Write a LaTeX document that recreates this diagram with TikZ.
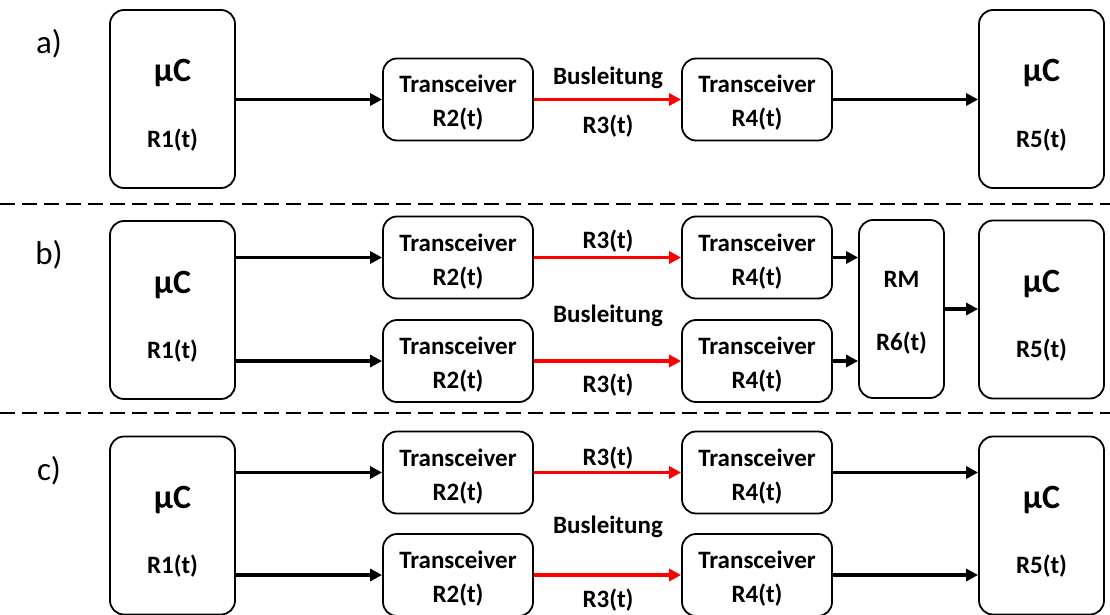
\documentclass[tikz,border=0pt]{standalone}
\usepackage{fontspec}
\setmainfont{Carlito}
\usetikzlibrary{arrows.meta}
\begin{document}
\begin{tikzpicture}[x=1pt,y=-1pt,
  box/.style={draw, line width=1.8pt, rounded corners=14pt, inner sep=0pt},
  mcbox/.style={box, minimum width=125pt, minimum height=178pt},
  trbox/.style={box, minimum width=150pt, minimum height=82pt},
  rmbox/.style={box, minimum width=85pt, minimum height=178pt},
  big/.style={font=\fontsize{34}{40}\selectfont\bfseries, inner sep=0pt, anchor=base},
  txt/.style={font=\fontsize{25}{30}\selectfont\bfseries, inner sep=0pt, anchor=base},
  tag/.style={font=\fontsize{33}{38}\selectfont, inner sep=0pt},
  arr/.style={line width=3.5pt, -{Triangle[length=12pt,width=12pt]}},
  busarr/.style={arr, red},
  sep/.style={line width=1.4pt, dash pattern=on 15pt off 7pt}
]
\useasboundingbox (0,0) rectangle (1110,615);

% ---------- a) single channel ----------
\node[tag] (ta) at (49,44) {a)};
\node[mcbox] (a1) at (172.5,99) {};
\node[big] (a1m) at ([yshift=17pt]a1.center) {μC};
\node[txt] (a1r) at ([yshift=-48pt]a1.center) {R1(t)};
\node[trbox] (a2) at (458,99.5) {};
\node[txt] (a2t) at ([yshift=6.5pt]a2.center) {Transceiver};
\node[txt] (a2r) at ([yshift=-27.5pt]a2.center) {R2(t)};
\node[trbox] (a4) at (757,99.5) {};
\node[txt] (a4t) at ([yshift=6.5pt]a4.center) {Transceiver};
\node[txt] (a4r) at ([yshift=-27.5pt]a4.center) {R4(t)};
\node[mcbox] (a5) at (1041.5,99) {};
\node[big] (a5m) at ([yshift=17pt]a5.center) {μC};
\node[txt] (a5r) at ([yshift=-48pt]a5.center) {R5(t)};
\draw[arr] (a1.east |- a2.west) -- (a2.west);
\draw[busarr] (a2) -- (a4);
\draw[arr] (a4) -- (a4 -| a5.west);
\node[txt] (abus) at (608,85) {Busleitung};
\node[txt] (ar3) at (608,133) {R3(t)};

\draw[sep] (0,204) coordinate (s1a) -- (1110,204) coordinate (s1b);

% ---------- b) two channels with RM ----------
\node[tag] (tb) at (49,255) {b)};
\node[mcbox] (b1) at (172.5,310) {};
\node[big] (b1m) at ([yshift=17pt]b1.center) {μC};
\node[txt] (b1r) at ([yshift=-48pt]b1.center) {R1(t)};
\node[trbox] (b2t) at (458,257.5) {};
\node[txt] (b2tt) at ([yshift=6.5pt]b2t.center) {Transceiver};
\node[txt] (b2tr) at ([yshift=-27.5pt]b2t.center) {R2(t)};
\node[trbox] (b2b) at (458,361) {};
\node[txt] (b2bt) at ([yshift=6.5pt]b2b.center) {Transceiver};
\node[txt] (b2br) at ([yshift=-27.5pt]b2b.center) {R2(t)};
\node[trbox] (b4t) at (757,257.5) {};
\node[txt] (b4tt) at ([yshift=6.5pt]b4t.center) {Transceiver};
\node[txt] (b4tr) at ([yshift=-27.5pt]b4t.center) {R4(t)};
\node[trbox] (b4b) at (757,361) {};
\node[txt] (b4bt) at ([yshift=6.5pt]b4b.center) {Transceiver};
\node[txt] (b4br) at ([yshift=-27.5pt]b4b.center) {R4(t)};
\node[rmbox] (rm) at (901.5,309) {};
\node[txt] (rmt) at ([yshift=22pt]rm.center) {RM};
\node[txt] (rmr) at ([yshift=-41pt]rm.center) {R6(t)};
\node[mcbox] (b5) at (1041.5,309.5) {};
\node[big] (b5m) at ([yshift=17pt]b5.center) {μC};
\node[txt] (b5r) at ([yshift=-48pt]b5.center) {R5(t)};
\draw[arr] (b1.east |- b2t.west) -- (b2t.west);
\draw[arr] (b1.east |- b2b.west) -- (b2b.west);
\draw[busarr] (b2t) -- (b4t);
\draw[busarr] (b2b) -- (b4b);
\draw[arr] (b4t.east) -- (b4t.east -| rm.west);
\draw[arr] (b4b.east) -- (b4b.east -| rm.west);
\draw[arr] (rm.east) -- (rm.east -| b5.west);
\node[txt] (br3t) at (608,248) {R3(t)};
\node[txt] (bbus) at (608,322) {Busleitung};
\node[txt] (br3b) at (608,392) {R3(t)};

\draw[sep] (0,413) coordinate (s2a) -- (1110,413) coordinate (s2b);

% ---------- c) two independent channels ----------
\node[tag] (tc) at (49,471) {c)};
\node[mcbox] (c1) at (172.5,525.5) {};
\node[big] (c1m) at ([yshift=17pt]c1.center) {μC};
\node[txt] (c1r) at ([yshift=-48pt]c1.center) {R1(t)};
\node[trbox] (c2t) at (458,472.5) {};
\node[txt] (c2tt) at ([yshift=6.5pt]c2t.center) {Transceiver};
\node[txt] (c2tr) at ([yshift=-27.5pt]c2t.center) {R2(t)};
\node[trbox] (c2b) at (458,575) {};
\node[txt] (c2bt) at ([yshift=6.5pt]c2b.center) {Transceiver};
\node[txt] (c2br) at ([yshift=-27.5pt]c2b.center) {R2(t)};
\node[trbox] (c4t) at (757,472.5) {};
\node[txt] (c4tt) at ([yshift=6.5pt]c4t.center) {Transceiver};
\node[txt] (c4tr) at ([yshift=-27.5pt]c4t.center) {R4(t)};
\node[trbox] (c4b) at (757,575) {};
\node[txt] (c4bt) at ([yshift=6.5pt]c4b.center) {Transceiver};
\node[txt] (c4br) at ([yshift=-27.5pt]c4b.center) {R4(t)};
\node[mcbox] (c5) at (1041.5,525.5) {};
\node[big] (c5m) at ([yshift=17pt]c5.center) {μC};
\node[txt] (c5r) at ([yshift=-48pt]c5.center) {R5(t)};
\draw[arr] (c1.east |- c2t.west) -- (c2t.west);
\draw[arr] (c1.east |- c2b.west) -- (c2b.west);
\draw[busarr] (c2t) -- (c4t);
\draw[busarr] (c2b) -- (c4b);
\draw[arr] (c4t.east) -- (c4t.east -| c5.west);
\draw[arr] (c4b.east) -- (c4b.east -| c5.west);
\node[txt] (cr3t) at (608,465) {R3(t)};
\node[txt] (cbus) at (608,533) {Busleitung};
\node[txt] (cr3b) at (608,607) {R3(t)};
\end{tikzpicture}
\end{document}
